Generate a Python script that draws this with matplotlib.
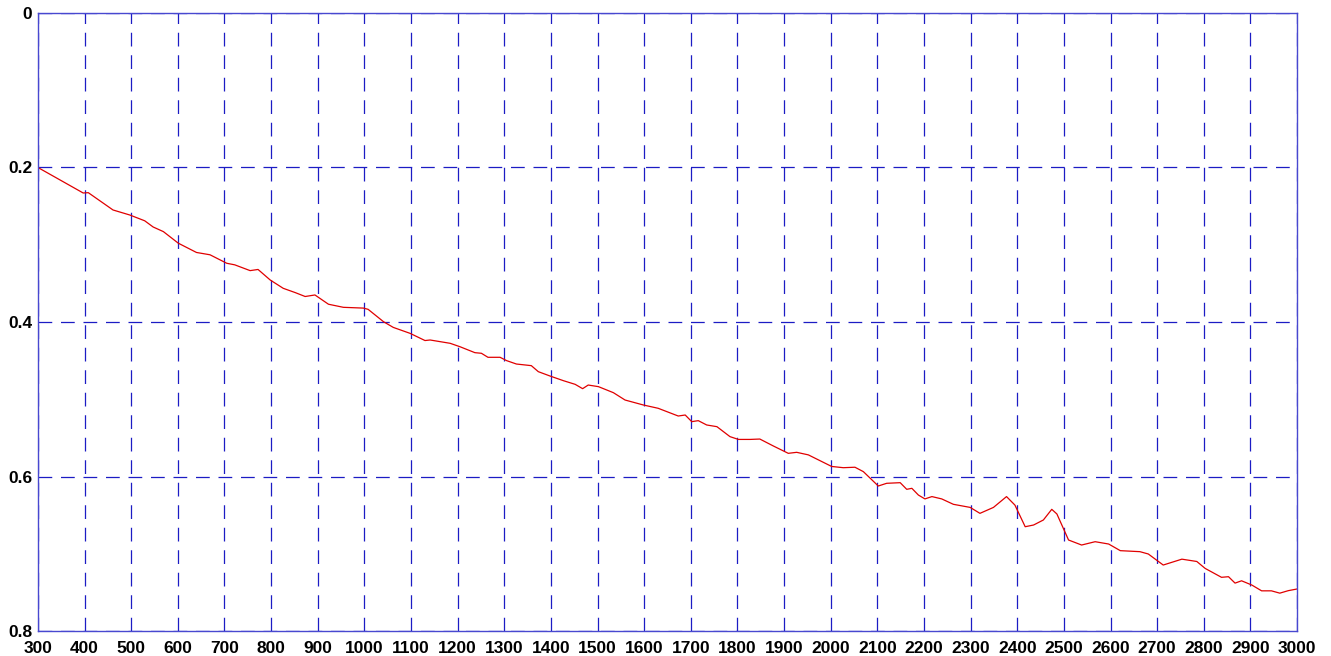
import matplotlib
matplotlib.use('Agg')
import matplotlib.pyplot as plt

# values
x_vals = [300, 397, 408, 461, 497, 529, 547, 569, 601, 640, 669, 705, 722, 755,
          772, 798, 826, 852, 873, 894, 923, 955, 998, 1008, 1041, 1062, 1098,
          1130, 1141, 1184, 1205, 1237, 1251, 1265, 1291, 1305, 1326, 1358, 1373,
          1398, 1427, 1452, 1468, 1480, 1502, 1534, 1559, 1598, 1630, 1673, 1688,
          1702, 1716, 1734, 1756, 1784, 1802, 1827, 1848, 1877, 1909, 1927, 1952,
          1977, 2002, 2027, 2052, 2070, 2102, 2120, 2149, 2163, 2174, 2188, 2202,
          2217, 2238, 2263, 2299, 2320, 2349, 2377, 2395, 2417, 2435, 2456, 2474,
          2485, 2510, 2538, 2567, 2596, 2621, 2663, 2681, 2713, 2753, 2785, 2803,
          2838, 2853, 2867, 2881, 2903, 2924, 2945, 2963, 2981, 3000]
y_vals = [0.200, 0.233, 0.2326, 0.255, 0.2615, 0.269, 0.277, 0.283, 0.298, 0.310,
          0.313, 0.324, 0.326, 0.3335, 0.332, 0.3456, 0.3564, 0.362, 0.367, 0.365,
          0.377, 0.381, 0.382, 0.3836, 0.3996, 0.407, 0.4147, 0.424, 0.4233,
          0.4276, 0.432, 0.4397, 0.4405, 0.4457, 0.4457, 0.450, 0.4544, 0.4565,
          0.4643, 0.4699, 0.476, 0.4807, 0.4863, 0.4816, 0.4837, 0.4915, 0.501,
          0.5074, 0.5117, 0.5217, 0.5204, 0.529, 0.5277, 0.5333, 0.5355, 0.5484,
          0.552, 0.552, 0.5515, 0.5605, 0.570, 0.5687, 0.572, 0.5795, 0.587,
          0.5886, 0.588, 0.5937, 0.6123, 0.6088, 0.608, 0.6166, 0.6153, 0.624,
          0.629, 0.626, 0.629, 0.636, 0.640, 0.6477, 0.640, 0.626, 0.637, 0.665,
          0.6628, 0.6563, 0.6425, 0.6485, 0.6822, 0.6887, 0.6844, 0.6874, 0.696,
          0.6973, 0.7003, 0.7146, 0.707, 0.710, 0.719, 0.7305, 0.7297, 0.738,
          0.735, 0.7405, 0.748, 0.748, 0.751, 0.7478, 0.7456]

x_ticks = list(range(300, 3001, 100))
y_ticks = [0, 0.2, 0.4, 0.6, 0.8]
y_ticklabels = ['0', '0.2', '0.4', '0.6', '0.8']

grid_color = '#1c1cc4'
spine_color = '#4848d0'

fig = plt.figure(figsize=(13.31, 6.56), dpi=100)
ax = fig.add_axes([0.0285, 0.0381, 0.9460, 0.9421])

ax.plot(x_vals, y_vals, color='#e00000', linewidth=0.9)

ax.set_xlim(300, 3000)
ax.set_ylim(0.8, 0)
ax.set_xticks(x_ticks)
ax.set_xticklabels([str(t) for t in x_ticks])
ax.set_yticks(y_ticks)
ax.set_yticklabels(y_ticklabels)

ax.grid(True, color=grid_color, linestyle=(0, (11, 7)), linewidth=0.9)
ax.set_axisbelow(True)

for s in ax.spines.values():
    s.set_color(spine_color)
    s.set_linewidth(1.0)

ax.tick_params(axis='both', length=0, labelsize=12.5)
ax.tick_params(axis='x', pad=7)
ax.tick_params(axis='y', pad=4)
for lbl in ax.get_xticklabels() + ax.get_yticklabels():
    lbl.set_fontfamily('Liberation Sans')
    lbl.set_fontweight('bold')

plt.savefig('out.png', dpi=100)
